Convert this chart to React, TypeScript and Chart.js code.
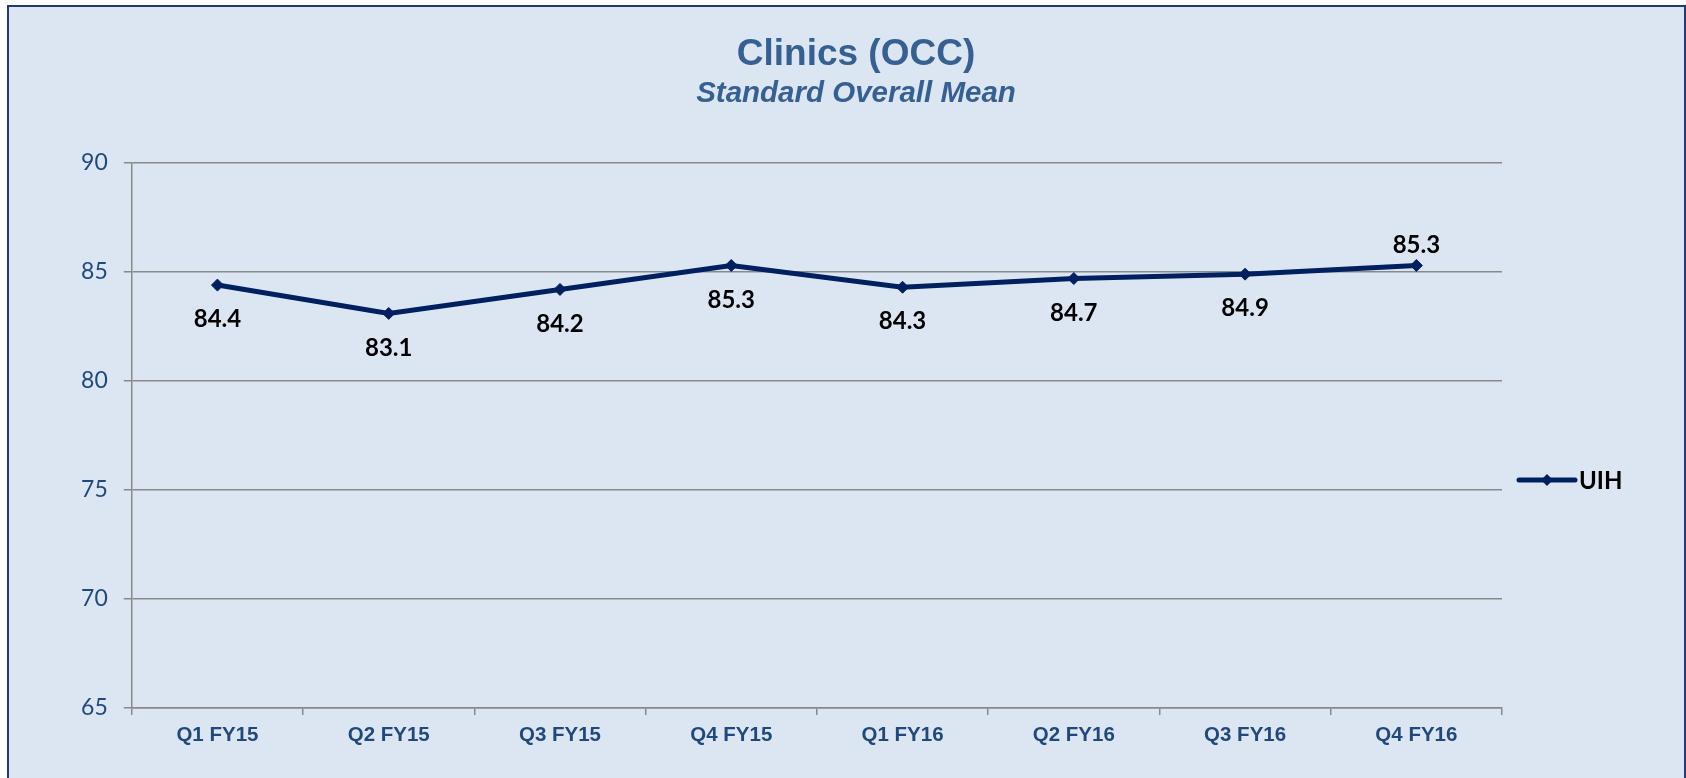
import React, { useEffect, useRef } from "react";
import { Chart, registerables } from "chart.js";

Chart.register(...registerables);

// ---- data ----
const categories = ["Q1 FY15", "Q2 FY15", "Q3 FY15", "Q4 FY15", "Q1 FY16", "Q2 FY16", "Q3 FY16", "Q4 FY16"];
const uihValues = [84.4, 83.1, 84.2, 85.3, 84.3, 84.7, 84.9, 85.3];
const seriesName = "UIH";
const yTickValues = [65, 70, 75, 80, 85, 90];
const titleText = "Clinics (OCC)";
const subtitleText = "Standard Overall Mean";
// data label placement per point (style): true = above the point
const labelAbove = [false, false, false, false, false, false, false, true];

// ---- style ----
const W = 1686;
const H = 778;
const BG = "#DCE6F2";
const FRAME = "#1F3B73";
const LINE = "#002060";
const GRID = "#898989";
const AXIS_TEXT = "#1F497D";
const TITLE_COLOR = "#376092";

const overlayPlugin = {
  id: "overlay",
  afterDatasetsDraw(chart: any) {
    const ctx = chart.ctx;
    const meta = chart.getDatasetMeta(0);
    const ds = chart.data.datasets[0];
    ctx.save();
    ctx.fillStyle = "#000000";
    ctx.font = "bold 24px Lato";
    ctx.textAlign = "center";
    ctx.textBaseline = "middle";
    meta.data.forEach((pt: any, i: number) => {
      const v = ds.data[i] as number;
      const y = labelAbove[i] ? pt.y - 20 : pt.y + 34.5;
      ctx.fillText(v.toFixed(1), pt.x, y);
    });
    ctx.restore();
  },
  afterDraw(chart: any) {
    const ctx = chart.ctx;
    const ds = chart.data.datasets[0];
    const area = chart.chartArea;
    ctx.save();
    // title
    ctx.fillStyle = TITLE_COLOR;
    ctx.textAlign = "center";
    ctx.textBaseline = "alphabetic";
    ctx.font = 'bold 37px "Liberation Sans", Arial, sans-serif';
    ctx.fillText(titleText, 856, 65);
    ctx.font = 'italic bold 29.5px "Liberation Sans", Arial, sans-serif';
    ctx.fillText(subtitleText, 856, 101.5);

    // legend
    const lx0 = area.right + 17;
    const lx1 = area.right + 73;
    const ly = 480;
    ctx.strokeStyle = ds.borderColor;
    ctx.lineWidth = 5;
    ctx.lineCap = "round";
    ctx.beginPath();
    ctx.moveTo(lx0, ly);
    ctx.lineTo(lx1, ly);
    ctx.stroke();
    const cx = (lx0 + lx1) / 2;
    const r = 6;
    ctx.fillStyle = ds.pointBackgroundColor;
    ctx.beginPath();
    ctx.moveTo(cx, ly - r);
    ctx.lineTo(cx + r, ly);
    ctx.lineTo(cx, ly + r);
    ctx.lineTo(cx - r, ly);
    ctx.closePath();
    ctx.fill();
    ctx.fillStyle = "#000000";
    ctx.font = "bold 24px Lato";
    ctx.textAlign = "left";
    ctx.textBaseline = "middle";
    ctx.fillText(ds.label, lx1 + 4, ly + 1);
    ctx.restore();
  },
};

export default function App() {
  const canvasRef = useRef<HTMLCanvasElement | null>(null);

  useEffect(() => {
    if (!canvasRef.current) return;
    const chart = new Chart(canvasRef.current, {
      type: "line",
      data: {
        labels: categories,
        datasets: [
          {
            label: seriesName,
            data: uihValues,
            borderColor: LINE,
            backgroundColor: LINE,
            borderWidth: 5,
            pointStyle: "rectRot",
            pointRadius: 6,
            pointBorderWidth: 1,
            pointBackgroundColor: LINE,
            pointBorderColor: LINE,
            tension: 0,
            fill: false,
          },
        ],
      },
      options: {
        responsive: false,
        animation: false,
        events: [],
        layout: {
          padding: { top: 163, left: 31.8, right: 184, bottom: 21.4 },
        },
        plugins: {
          legend: { display: false },
          title: { display: false },
          tooltip: { enabled: false },
        },
        scales: {
          x: {
            type: "category",
            offset: true,
            grid: {
              offset: true,
              drawOnChartArea: false,
              drawTicks: true,
              tickLength: 7,
              color: GRID,
              lineWidth: 1.5,
            },
            border: { display: true, color: GRID, width: 1.5 },
            ticks: {
              color: AXIS_TEXT,
              font: { family: '"Liberation Sans", Arial, sans-serif', size: 20.5, weight: "bold" },
              padding: 8.5,
              maxRotation: 0,
              autoSkip: false,
            },
          },
          y: {
            min: yTickValues[0],
            max: yTickValues[yTickValues.length - 1],
            afterFit: (scale: any) => {
              scale.width = 100;
            },
            afterBuildTicks: (scale: any) => {
              scale.ticks = yTickValues.map((v) => ({ value: v }));
            },
            grid: {
              color: GRID,
              lineWidth: 1.5,
              drawTicks: true,
              tickLength: 8,
            },
            border: { display: true, color: GRID, width: 1.5 },
            ticks: {
              color: AXIS_TEXT,
              font: { family: "Lato", size: 23 },
              padding: 16,
            },
          },
        },
      },
      plugins: [overlayPlugin],
    } as any);
    return () => chart.destroy();
  }, []);

  return (
    <div
      style={{
        position: "fixed",
        left: 0,
        top: 0,
        width: W,
        height: H,
        overflow: "hidden",
        background: "#ffffff",
      }}
    >
      <div
        style={{
          position: "absolute",
          left: 7,
          top: 5,
          width: W - 7,
          height: 820,
          boxSizing: "border-box",
          border: `2px solid ${FRAME}`,
          background: BG,
        }}
      />
      <canvas
        ref={canvasRef}
        width={W}
        height={H}
        style={{ position: "absolute", left: 0, top: 0, width: W, height: H, display: "block" }}
      />
    </div>
  );
}
